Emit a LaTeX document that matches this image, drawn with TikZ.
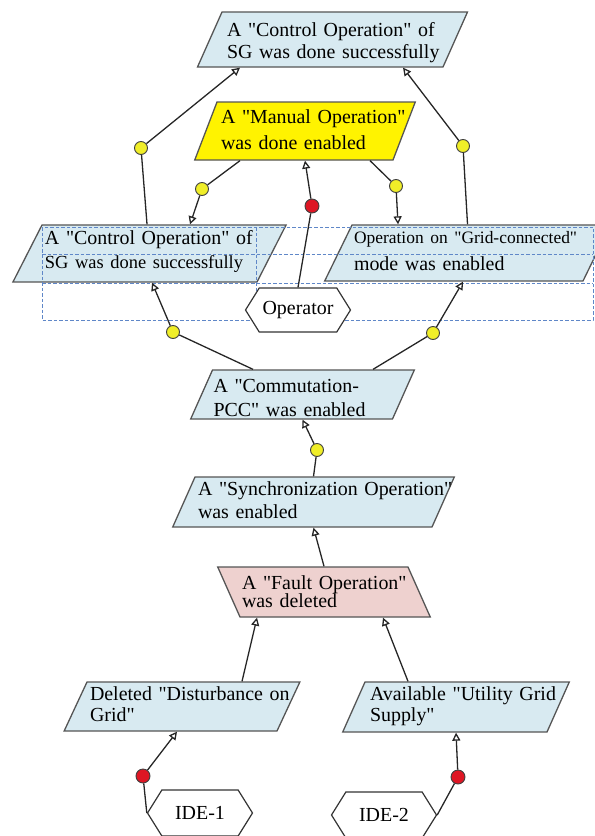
\documentclass[tikz,border=0pt]{standalone}
\usepackage{fontspec}
\setmainfont{Liberation Serif}[Ligatures=TeXOff]
\usetikzlibrary{arrows.meta,shapes.geometric,shapes.symbols}
\definecolor{condblue}{RGB}{216,234,241}
\definecolor{condpink}{RGB}{238,209,207}
\definecolor{condyellow}{RGB}{255,243,0}
\definecolor{gateyellow}{RGB}{240,238,40}
\definecolor{gatered}{RGB}{222,22,36}
\definecolor{edgegray}{RGB}{85,85,85}
\definecolor{gridblue}{RGB}{95,135,200}

\begin{document}
\begin{tikzpicture}[x=1bp,y=-1bp,>={Triangle[open,length=8bp,width=8bp]},
  cond/.style={trapezium,trapezium left angle=#1,trapezium right angle={180-#1},draw=edgegray,line width=1.3bp,fill=condblue,align=left,inner ysep=0pt},
  cond/.default=66,
  lead/.style={font=\fontsize{20}{#1}\selectfont},
  gate/.style={circle,draw=black!75,line width=0.9bp,fill=gateyellow,minimum size=13bp,inner sep=0pt},
  redgate/.style={gate,fill=gatered,minimum size=14bp},
  actor/.style={signal,signal to=west and east,signal pointer angle=116,draw=black!80,line width=1.2bp,fill=white,minimum width=105bp,minimum height=44bp,inner sep=0pt,lead=24},
  link/.style={draw=black!85,line width=1.3bp},
  gridline/.style={gridblue,line width=0.9bp,dash pattern=on 3.5bp off 2bp}]
  \useasboundingbox (0,0) rectangle (595,836);
  \node[cond=66,lead=23,text width=211bp,inner xsep=5bp,text height=24bp,text depth=31bp] (sgdone) at (332.5,39.5) {\mbox{A "Control Operation" of}\\\mbox{SG was done successfully}};
  \node[cond=69,fill=condyellow,lead=27,text width=168bp,inner xsep=4bp,text height=21bp,text depth=37bp] (manual) at (305,131) {\mbox{A "Manual Operation"}\\\mbox{was done enabled}};
  \node[cond=63,lead=25,text width=209bp,inner xsep=3bp,text height=19bp,text depth=38bp] (sgleft) at (149.5,253.5) {\mbox{A "Control Operation" of}\\\makebox[197bp][s]{\fontsize{18.5}{20}\selectfont SG was done successfully}};
  \node[cond=64,lead=28,text width=227bp,inner xsep=2bp,text height=18bp,text depth=38bp] (gridmode) at (467.5,253) {\makebox[226bp][s]{\fontsize{17.5}{20}\selectfont Operation on "Grid-connected"}\\\mbox{mode was enabled}};
  \node[cond=66,lead=25,text width=178bp,inner xsep=1bp,text height=22bp,text depth=27bp] (pcc) at (302.5,394.5) {\mbox{A "Commutation-}\\\mbox{PCC" was enabled}};
  \node[cond=66,lead=24,text width=231bp,inner xsep=3bp,text height=18bp,text depth=32bp] (sync) at (313.5,502) {\mbox{A "Synchronization Operation"}\\\mbox{was enabled}};
  \node[cond=114,fill=condpink,lead=19,text width=164bp,inner xsep=2bp,text height=22bp,text depth=28bp] (fault) at (324,592) {\mbox{A "Fault Operation"}\\\mbox{was deleted}};
  \node[cond=65,lead=22,text width=184bp,inner xsep=3bp,text height=18bp,text depth=31bp] (dist) at (182,706.5) {\mbox{Deleted "Disturbance on}\\\mbox{Grid"}};
  \node[cond=66,lead=22,text width=172bp,inner xsep=5bp,text height=18bp,text depth=32bp] (supply) at (456,707) {\mbox{Available "Utility Grid}\\\mbox{Supply"}};
  \draw[gridline] (42,227) rectangle (593,320);
  \draw[gridline] (42,254) -- (593,254) (42,283) -- (593,283) (256,227) -- (256,320);
  \node[actor] (oper) at (298,310) {Operator};
  \node[actor,minimum height=46bp] (ide1) at (200,813) {IDE-1};
  \node[actor,minimum height=46bp] (ide2) at (384,815) {IDE-2};
  \node[gate] (g1) at (141,148) {};
  \node[gate] (g2) at (463,146) {};
  \node[gate] (g3) at (202,189) {};
  \node[gate] (g4) at (396,186) {};
  \node[gate] (g5) at (173,332) {};
  \node[gate] (g6) at (433,333) {};
  \node[gate] (g7) at (317,450) {};
  \node[redgate] (r1) at (312,206) {};
  \node[redgate] (r2) at (143,776) {};
  \node[redgate] (r3) at (458,777) {};
  \draw[link,->] ([xshift=-2.5bp]sgleft.north) -- (g1) -- ([xshift=-92.5bp]sgdone.south);
  \draw[link,->] (gridmode.north) -- (g2) -- ([xshift=70.5bp]sgdone.south);
  \draw[link,->] ([xshift=-65bp]manual.south) -- (g3) -- ([xshift=40.5bp]sgleft.north);
  \draw[link,->] ([xshift=65bp]manual.south) -- (g4) -- ([xshift=-69.5bp]gridmode.north);
  \draw[link,->] (oper.north) -- (r1) -- (manual.south);
  \draw[link,->] ([xshift=-49.5bp]pcc.north) -- (g5) -- ([xshift=2.5bp]sgleft.south);
  \draw[link,->] ([xshift=70.5bp]pcc.north) -- (g6) -- ([xshift=-4.5bp]gridmode.south);
  \draw[link,->] (sync.north) -- (g7) -- (pcc.south);
  \draw[link,->] (fault.north) -- (sync.south);
  \draw[link,->] ([xshift=60bp]dist.north) -- ([xshift=-67bp]fault.south);
  \draw[link,->] ([xshift=-48bp]supply.north) -- ([xshift=59bp]fault.south);
  \draw[link,->] (ide1.west) -- (r2) -- ([xshift=-5bp]dist.south);
  \draw[link,->] (ide2.east) -- (r3) -- (supply.south);
\end{tikzpicture}
\end{document}
